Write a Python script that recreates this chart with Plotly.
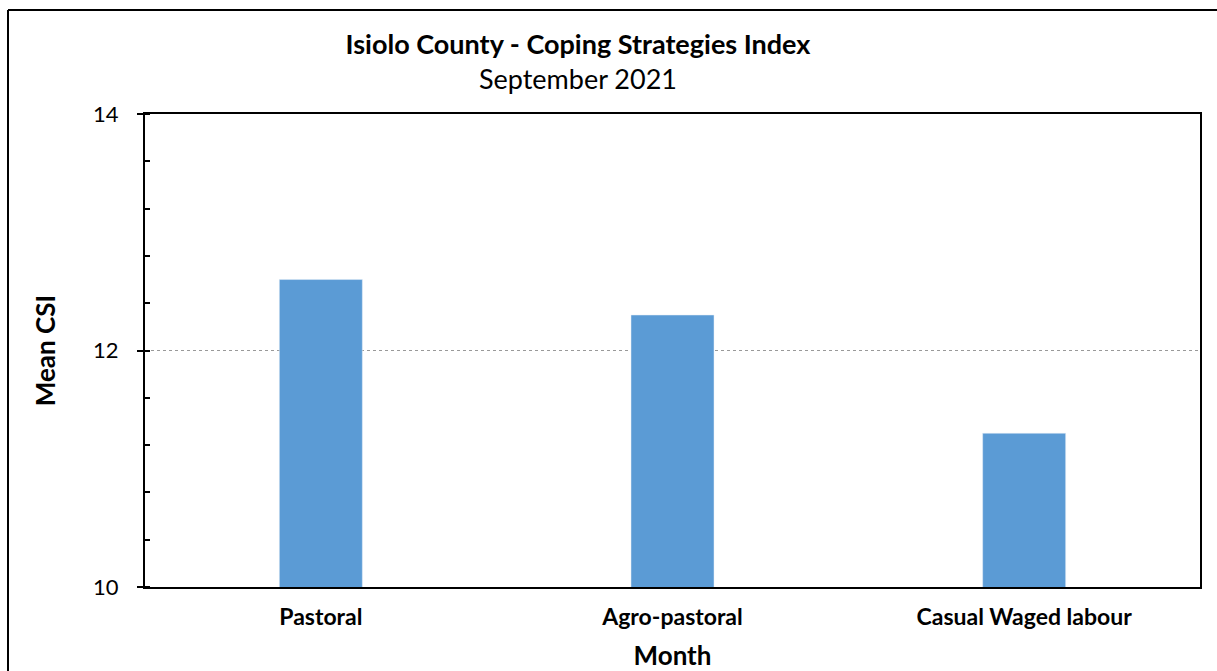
import plotly.graph_objects as go

categories = ["Pastoral", "Agro-pastoral", "Casual Waged labour"]
mean_csi = [12.6, 12.3, 11.3]
y_ticks = [10, 12, 14]

W, H = 1217, 671
L, R, T, B = 145, 17, 114, 84
pw, ph = W - L - R, H - T - B

def px(x):
    return (x - L) / pw

def py(y):
    return (H - B - y) / ph

FONT = "Lato"

fig = go.Figure(go.Bar(
    x=categories, y=mean_csi, marker_color="#5B9BD5", width=0.236,
    hoverinfo="x+y"))

fig.update_layout(
    width=W, height=H,
    margin=dict(l=L, r=R, t=T, b=B, autoexpand=False),
    paper_bgcolor="white", plot_bgcolor="white",
    font=dict(family=FONT, color="black"),
    showlegend=False,
    title=dict(
        text="<b>Isiolo County - Coping Strategies Index</b><br>September 2021",
        xref="container", x=578 / W, xanchor="center",
        yref="container", y=1 - 54 / H, yanchor="middle",
        font=dict(size=27, family=FONT, color="black")),
    xaxis=dict(
        automargin=False,
        showline=True, linecolor="black", linewidth=2, mirror=True,
        ticks="", tickfont=dict(size=23, family=FONT, color="black"),
        tickprefix="<b>", ticksuffix="</b>", ticklabelstandoff=8,
        title=dict(text="<b>Month</b>", font=dict(size=26, family=FONT), standoff=24),
        showgrid=False),
    yaxis=dict(
        automargin=False,
        range=[10, 14], tickvals=y_ticks, showline=True, linecolor="black",
        linewidth=2, mirror=True, ticks="outside", ticklen=6, tickwidth=1.5,
        tickcolor="black", tickfont=dict(size=22, family=FONT, color="black"),
        ticklabelstandoff=14,
        showgrid=True, gridcolor="#999999", griddash="dot", gridwidth=1,
        minor=dict(dtick=0.4, tick0=10, ticks="inside", ticklen=5,
                   tickcolor="black", tickwidth=1.5, showgrid=False),
        title=dict(text="<b>Mean CSI</b>", font=dict(size=26, family=FONT), standoff=30),
        zeroline=False),
    shapes=[
        dict(type="line", xref="paper", yref="paper", x0=px(8), x1=px(1300),
             y0=py(10), y1=py(10), line=dict(color="black", width=2)),
        dict(type="line", xref="paper", yref="paper", x0=px(8), x1=px(8),
             y0=py(10), y1=py(720), line=dict(color="black", width=2)),
    ],
)

fig.write_html("out.html", config={"displayModeBar": False},
               post_script="document.body.style.margin='0';document.body.style.padding='0';")
